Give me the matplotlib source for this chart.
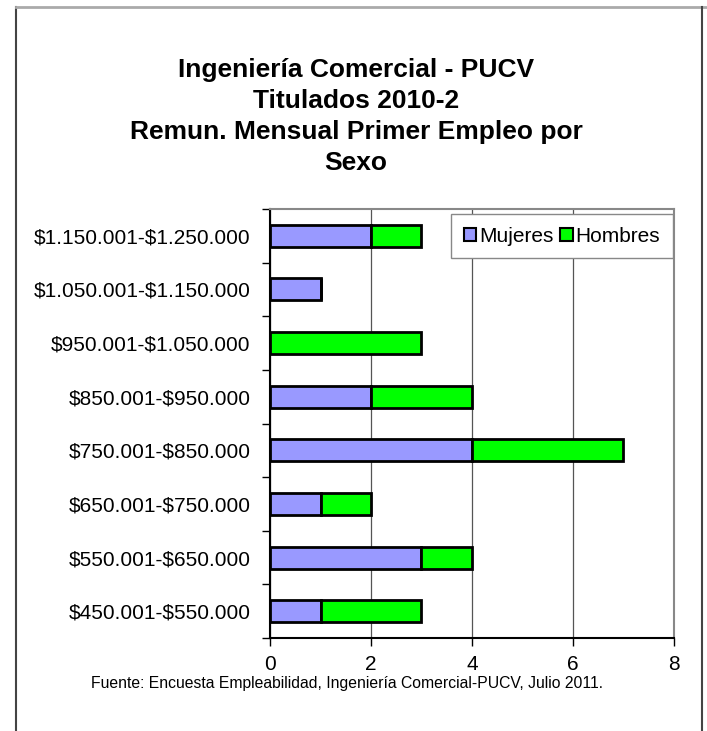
import matplotlib
matplotlib.use('Agg')
import matplotlib.pyplot as plt
import numpy as np
from matplotlib.lines import Line2D

plt.rcParams['font.family'] = ['Liberation Sans', 'DejaVu Sans']
plt.rcParams['text.parse_math'] = False

rangos = ['$450.001-$550.000', '$550.001-$650.000', '$650.001-$750.000',
          '$750.001-$850.000', '$850.001-$950.000', '$950.001-$1.050.000',
          '$1.050.001-$1.150.000', '$1.150.001-$1.250.000']
mujeres = [1, 3, 1, 4, 2, 0, 1, 2]
hombres = [2, 1, 1, 3, 2, 3, 0, 1]
x_ticks = [0, 2, 4, 6, 8]

titulo = 'Ingeniería Comercial - PUCV\nTitulados 2010-2\nRemun. Mensual Primer Empleo por\nSexo'
fuente = 'Fuente: Encuesta Empleabilidad, Ingeniería Comercial-PUCV, Julio 2011.'

fig = plt.figure(figsize=(7.07, 7.31), dpi=100)
ax = fig.add_axes([0.3819, 0.1272, 0.5714, 0.5869])

y = np.arange(len(rangos))
ax.barh(y, mujeres, height=0.41, color='#9999FF', edgecolor='black', linewidth=2, label='Mujeres', zorder=3)
ax.barh(y, hombres, left=mujeres, height=0.41, color='#00FF00', edgecolor='black', linewidth=2, label='Hombres', zorder=3)

ax.set_xlim(0, 8)
ax.set_ylim(-0.5, len(rangos) - 0.5)
ax.set_xticks(x_ticks)
ax.set_xticklabels([str(v) for v in x_ticks], fontsize=15)
ax.set_yticks(y)
ax.set_yticklabels(rangos, fontsize=15)
ax.tick_params(axis='y', length=0, pad=14)
ax.set_yticks(np.arange(len(rangos) + 1) - 0.5, minor=True)
ax.tick_params(axis='y', which='minor', length=6, width=1, direction='out')
ax.tick_params(axis='x', length=6, width=1, direction='out', pad=6)
ax.xaxis.grid(True, color='#555555', linewidth=0.9, zorder=0)

for s in ['left', 'bottom']:
    ax.spines[s].set_color('black')
    ax.spines[s].set_linewidth(1.5)
for s in ['top', 'right']:
    ax.spines[s].set_color('#888888')
    ax.spines[s].set_linewidth(1.5)

leg = ax.legend(loc='upper right', bbox_to_anchor=(0.997, 0.988), borderaxespad=0,
                ncol=2, fontsize=15,
                frameon=True, fancybox=False, edgecolor='#888888', framealpha=1,
                handlelength=0.6, handleheight=0.6, handletextpad=0.15,
                columnspacing=0.3, borderpad=0.6)
for h in leg.legend_handles:
    h.set_linewidth(1.5)

fig.text(0.5035, 0.921, titulo, ha='center', va='top', fontsize=19,
         fontweight='bold', linespacing=1.38)
fig.text(0.4915, 0.065, fuente, ha='center', va='center', fontsize=11.3)

# marco exterior
fig.add_artist(Line2D([16/707, 16/707], [0, 1 - 7/731], color='#444444', linewidth=1.5, transform=fig.transFigure))
fig.add_artist(Line2D([16/707, 1], [1 - 7/731, 1 - 7/731], color='#aaaaaa', linewidth=2, transform=fig.transFigure))
fig.add_artist(Line2D([702/707, 702/707], [0, 1 - 7/731], color='#444444', linewidth=1.5, transform=fig.transFigure))

fig.savefig('out.png', dpi=100)
